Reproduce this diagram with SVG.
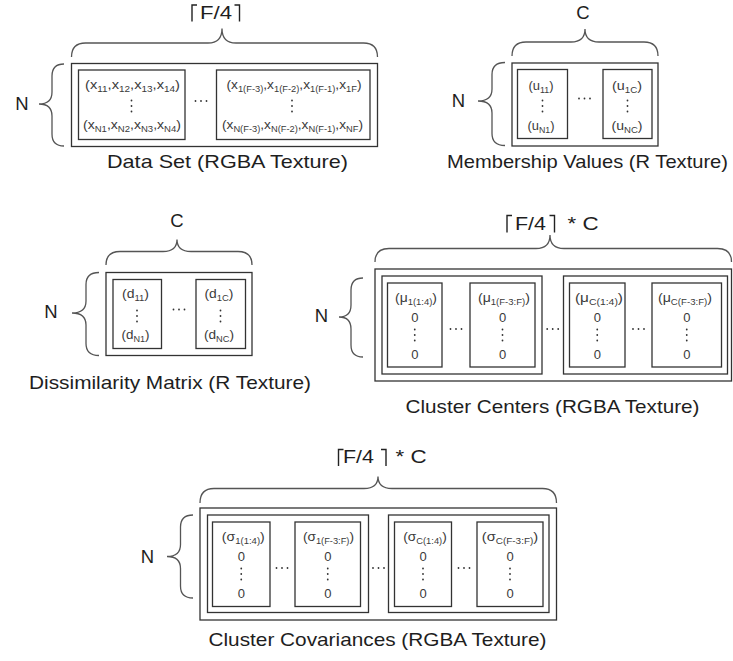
<svg xmlns="http://www.w3.org/2000/svg" xmlns:xlink="http://www.w3.org/1999/xlink" width="733" height="661" viewBox="0 0 733 661">
  <defs>
    <style>
      .frame { fill: none; stroke: #333; stroke-width: 1.3; }
      .brace { fill: none; stroke: #555; stroke-width: 1.3; }
      .ceil { fill: none; stroke: #222; stroke-width: 1.4; }
      text { font-family: "Liberation Sans", Arial, sans-serif; text-anchor: middle; }
      .lbl { font-size: 18.5px; fill: #1e1e1e; }
      .cell { font-size: 12.5px; fill: #3a3a3a; }
      .zero { font-size: 13px; fill: #3a3a3a; }
      .sb { font-size: 8.5px; }
      .dot { fill: #333; }
    </style>
    <g id="hdots"><circle class="dot" cx="-5.5" cy="0" r="0.9"/><circle class="dot" cx="0" cy="0" r="0.9"/><circle class="dot" cx="5.5" cy="0" r="0.9"/></g>
    <g id="vdots"><circle class="dot" cx="0" cy="-5.5" r="0.9"/><circle class="dot" cx="0" cy="0" r="0.9"/><circle class="dot" cx="0" cy="5.5" r="0.9"/></g>
  </defs>
  <rect width="733" height="661" fill="#fff"/>

  <!-- dimension braces and their labels -->
  <g id="braces">
    <!-- Data Set -->
    <path class="ceil" d="M197,5 L192,5 L192,21.5 M234.5,5 L239.5,5 L239.5,21.5"/>
    <text class="lbl" x="216" y="18.5" textLength="32" lengthAdjust="spacingAndGlyphs">F/4</text>
    <path class="brace" d="M71.5,57 Q71.5,43 85.5,43 L208,43 Q222,43 222,28.5 Q222,43 236,43 L363.5,43 Q377.5,43 377.5,57"/>
    <path class="brace" d="M64,64 Q52,64 52,76 L52,92 Q52,104 39,104 Q52,104 52,116 L52,134 Q52,146 64,146"/>
    <text class="lbl" x="22" y="110">N</text>

    <!-- Membership Values -->
    <text class="lbl" x="583" y="18.5">C</text>
    <path class="brace" d="M512,56 Q512,42 526,42 L571,42 Q585,42 585,29 Q585,42 599,42 L644,42 Q658,42 658,56"/>
    <path class="brace" d="M505,62.5 Q492,62.5 492,74.5 L492,89 Q492,101 478,101 Q492,101 492,113 L492,133.5 Q492,145.5 505,145.5"/>
    <text class="lbl" x="458.5" y="107">N</text>

    <!-- Dissimilarity Matrix -->
    <text class="lbl" x="177" y="227">C</text>
    <path class="brace" d="M106,265 Q106,251.5 120,251.5 L163,251.5 Q177,251.5 177,239.5 Q177,251.5 191,251.5 L238,251.5 Q252,251.5 252,265"/>
    <path class="brace" d="M99,272.5 Q86,272.5 86,284.5 L86,301 Q86,313 72,313 Q86,313 86,325 L86,343.5 Q86,355.5 99,355.5"/>
    <text class="lbl" x="51" y="318">N</text>

    <!-- Cluster Centers -->
    <path class="ceil" d="M512,215.5 L507,215.5 L507,232.5 M549.5,215.5 L554.5,215.5 L554.5,232.5"/>
    <text class="lbl" x="530.5" y="229.5" textLength="31" lengthAdjust="spacingAndGlyphs">F/4</text>
    <text class="lbl" x="583" y="229.5" textLength="31" lengthAdjust="spacingAndGlyphs">* C</text>
    <path class="brace" d="M375,262 Q375,248.5 389,248.5 L536,248.5 Q550,248.5 550,235 Q550,248.5 564,248.5 L717.5,248.5 Q731.5,248.5 731.5,262"/>
    <path class="brace" d="M363,278 Q351,278 351,290 L351,305 Q351,317 339,317 Q351,317 351,329 L351,345 Q351,357 363,357"/>
    <text class="lbl" x="321.5" y="322">N</text>

    <!-- Cluster Covariances -->
    <path class="ceil" d="M343.5,449.5 L338.5,449.5 L338.5,466 M381,449.5 L386,449.5 L386,466"/>
    <text class="lbl" x="358.5" y="463" textLength="31" lengthAdjust="spacingAndGlyphs">F/4</text>
    <text class="lbl" x="411" y="463" textLength="31" lengthAdjust="spacingAndGlyphs">* C</text>
    <path class="brace" d="M200,503 Q200,488.5 214,488.5 L364,488.5 Q378,488.5 378,476.5 Q378,488.5 392,488.5 L542.5,488.5 Q556.5,488.5 556.5,503"/>
    <path class="brace" d="M193,515 Q180.5,515 180.5,527 L180.5,544.5 Q180.5,556.5 167,556.5 Q180.5,556.5 180.5,568.5 L180.5,586 Q180.5,598 193,598"/>
    <text class="lbl" x="147.5" y="563">N</text>
  </g>

  <!-- Data Set (RGBA texture) -->
  <g id="data-set">
    <rect class="frame" x="71.5" y="63.5" width="306" height="83"/>
    <rect class="frame" x="78.5" y="70" width="106.5" height="69.5"/>
    <rect class="frame" x="216.5" y="70" width="153.5" height="69.5"/>
    <text class="cell" x="132.5" y="88.5" textLength="95" lengthAdjust="spacingAndGlyphs">(x<tspan class="sb" dy="3">11</tspan><tspan dy="-3">,x</tspan><tspan class="sb" dy="3">12</tspan><tspan dy="-3">,x</tspan><tspan class="sb" dy="3">13</tspan><tspan dy="-3">,x</tspan><tspan class="sb" dy="3">14</tspan><tspan dy="-3">)</tspan></text>
    <text class="cell" x="132" y="128.5" textLength="98" lengthAdjust="spacingAndGlyphs">(x<tspan class="sb" dy="3">N1</tspan><tspan dy="-3">,x</tspan><tspan class="sb" dy="3">N2</tspan><tspan dy="-3">,x</tspan><tspan class="sb" dy="3">N3</tspan><tspan dy="-3">,x</tspan><tspan class="sb" dy="3">N4</tspan><tspan dy="-3">)</tspan></text>
    <text class="cell" x="294" y="88.5" textLength="135" lengthAdjust="spacingAndGlyphs">(x<tspan class="sb" dy="3">1(F-3)</tspan><tspan dy="-3">,x</tspan><tspan class="sb" dy="3">1(F-2)</tspan><tspan dy="-3">,x</tspan><tspan class="sb" dy="3">1(F-1)</tspan><tspan dy="-3">,x</tspan><tspan class="sb" dy="3">1F</tspan><tspan dy="-3">)</tspan></text>
    <text class="cell" x="292.5" y="128.5" textLength="141" lengthAdjust="spacingAndGlyphs">(x<tspan class="sb" dy="3">N(F-3)</tspan><tspan dy="-3">,x</tspan><tspan class="sb" dy="3">N(F-2)</tspan><tspan dy="-3">,x</tspan><tspan class="sb" dy="3">N(F-1)</tspan><tspan dy="-3">,x</tspan><tspan class="sb" dy="3">NF</tspan><tspan dy="-3">)</tspan></text>
    <use xlink:href="#vdots" x="131.5" y="106"/>
    <use xlink:href="#vdots" x="292" y="106"/>
    <use xlink:href="#hdots" x="201" y="101"/>
    <text class="lbl" x="227.5" y="168" textLength="241" lengthAdjust="spacingAndGlyphs">Data Set (RGBA Texture)</text>
  </g>

  <!-- Membership Values (R texture) -->
  <g id="membership-values">
    <rect class="frame" x="512" y="63" width="146" height="83"/>
    <rect class="frame" x="517.5" y="69.5" width="50" height="69"/>
    <rect class="frame" x="603" y="69.5" width="49" height="69"/>
    <text class="cell" x="541" y="89.5" textLength="25" lengthAdjust="spacingAndGlyphs">(u<tspan class="sb" dy="3">11</tspan><tspan dy="-3">)</tspan></text>
    <text class="cell" x="541" y="129.5" textLength="27" lengthAdjust="spacingAndGlyphs">(u<tspan class="sb" dy="3">N1</tspan><tspan dy="-3">)</tspan></text>
    <text class="cell" x="627" y="89.5" textLength="30" lengthAdjust="spacingAndGlyphs">(u<tspan class="sb" dy="3">1C</tspan><tspan dy="-3">)</tspan></text>
    <text class="cell" x="627" y="129.5" textLength="31" lengthAdjust="spacingAndGlyphs">(u<tspan class="sb" dy="3">NC</tspan><tspan dy="-3">)</tspan></text>
    <use xlink:href="#vdots" x="542.5" y="106"/>
    <use xlink:href="#vdots" x="627.5" y="106"/>
    <use xlink:href="#hdots" x="584.5" y="98.5"/>
    <text class="lbl" x="587.5" y="168" textLength="281" lengthAdjust="spacingAndGlyphs">Membership Values (R Texture)</text>
  </g>

  <!-- Dissimilarity Matrix (R texture) -->
  <g id="dissimilarity-matrix">
    <rect class="frame" x="106" y="272.5" width="146" height="83"/>
    <rect class="frame" x="113" y="279.5" width="48.5" height="69"/>
    <rect class="frame" x="196" y="279.5" width="49.5" height="69"/>
    <text class="cell" x="135.5" y="298" textLength="27" lengthAdjust="spacingAndGlyphs">(d<tspan class="sb" dy="3">11</tspan><tspan dy="-3">)</tspan></text>
    <text class="cell" x="135.5" y="338.5" textLength="28" lengthAdjust="spacingAndGlyphs">(d<tspan class="sb" dy="3">N1</tspan><tspan dy="-3">)</tspan></text>
    <text class="cell" x="219" y="298" textLength="29" lengthAdjust="spacingAndGlyphs">(d<tspan class="sb" dy="3">1C</tspan><tspan dy="-3">)</tspan></text>
    <text class="cell" x="219" y="338.5" textLength="30" lengthAdjust="spacingAndGlyphs">(d<tspan class="sb" dy="3">NC</tspan><tspan dy="-3">)</tspan></text>
    <use xlink:href="#vdots" x="137" y="316"/>
    <use xlink:href="#vdots" x="220.5" y="316"/>
    <use xlink:href="#hdots" x="179" y="309.5"/>
    <text class="lbl" x="170" y="389" textLength="282" lengthAdjust="spacingAndGlyphs">Dissimilarity Matrix (R Texture)</text>
  </g>

  <!-- Cluster Centers (RGBA texture) -->
  <g id="cluster-centers">
    <rect class="frame" x="375" y="269" width="356.5" height="112"/>
    <rect class="frame" x="382" y="276" width="160" height="98"/>
    <rect class="frame" x="563.5" y="276" width="164" height="98"/>
    <rect class="frame" x="387.5" y="283" width="54.5" height="84"/>
    <rect class="frame" x="470" y="283" width="65" height="84"/>
    <rect class="frame" x="569.5" y="283" width="55.5" height="84"/>
    <rect class="frame" x="652" y="283" width="69.5" height="84"/>
    <text class="cell" x="416" y="302" textLength="42" lengthAdjust="spacingAndGlyphs">(μ<tspan class="sb" dy="3">1(1:4)</tspan><tspan dy="-3">)</tspan></text>
    <text class="cell" x="504" y="302" textLength="52" lengthAdjust="spacingAndGlyphs">(μ<tspan class="sb" dy="3">1(F-3:F)</tspan><tspan dy="-3">)</tspan></text>
    <text class="cell" x="599" y="302" textLength="48" lengthAdjust="spacingAndGlyphs">(μ<tspan class="sb" dy="3">C(1:4)</tspan><tspan dy="-3">)</tspan></text>
    <text class="cell" x="685" y="302" textLength="54" lengthAdjust="spacingAndGlyphs">(μ<tspan class="sb" dy="3">C(F-3:F)</tspan><tspan dy="-3">)</tspan></text>
    <text class="zero" x="414.75" y="322">0</text>
    <text class="zero" x="502.5" y="322">0</text>
    <text class="zero" x="597.25" y="322">0</text>
    <text class="zero" x="686.75" y="322">0</text>
    <use xlink:href="#vdots" x="414.75" y="335"/>
    <use xlink:href="#vdots" x="502.5" y="335"/>
    <use xlink:href="#vdots" x="597.25" y="335"/>
    <use xlink:href="#vdots" x="686.75" y="335"/>
    <text class="zero" x="414.75" y="359">0</text>
    <text class="zero" x="502.5" y="359">0</text>
    <text class="zero" x="597.25" y="359">0</text>
    <text class="zero" x="686.75" y="359">0</text>
    <use xlink:href="#hdots" x="456" y="329"/>
    <use xlink:href="#hdots" x="552.7" y="329"/>
    <use xlink:href="#hdots" x="638.5" y="329"/>
    <text class="lbl" x="552.5" y="413" textLength="294" lengthAdjust="spacingAndGlyphs">Cluster Centers (RGBA Texture)</text>
  </g>

  <!-- Cluster Covariances (RGBA texture) -->
  <g id="cluster-covariances">
    <rect class="frame" x="200" y="508" width="356.5" height="112"/>
    <rect class="frame" x="207.5" y="515" width="161" height="97.5"/>
    <rect class="frame" x="388.5" y="515" width="160.5" height="97.5"/>
    <rect class="frame" x="212.5" y="522" width="57.5" height="84.5"/>
    <rect class="frame" x="295" y="522" width="65.5" height="84.5"/>
    <rect class="frame" x="394.5" y="522" width="57" height="84.5"/>
    <rect class="frame" x="477" y="522" width="66" height="84.5"/>
    <text class="cell" x="243.3" y="541" textLength="43" lengthAdjust="spacingAndGlyphs">(σ<tspan class="sb" dy="3">1(1:4)</tspan><tspan dy="-3">)</tspan></text>
    <text class="cell" x="328.5" y="541" textLength="51" lengthAdjust="spacingAndGlyphs">(σ<tspan class="sb" dy="3">1(F-3:F)</tspan><tspan dy="-3">)</tspan></text>
    <text class="cell" x="425" y="541" textLength="43.5" lengthAdjust="spacingAndGlyphs">(σ<tspan class="sb" dy="3">C(1:4)</tspan><tspan dy="-3">)</tspan></text>
    <text class="cell" x="510" y="541" textLength="56.5" lengthAdjust="spacingAndGlyphs">(σ<tspan class="sb" dy="3">C(F-3:F)</tspan><tspan dy="-3">)</tspan></text>
    <text class="zero" x="241.25" y="561">0</text>
    <text class="zero" x="327.75" y="561">0</text>
    <text class="zero" x="423" y="561">0</text>
    <text class="zero" x="510" y="561">0</text>
    <use xlink:href="#vdots" x="241.25" y="574"/>
    <use xlink:href="#vdots" x="327.75" y="574"/>
    <use xlink:href="#vdots" x="423" y="574"/>
    <use xlink:href="#vdots" x="510" y="574"/>
    <text class="zero" x="241.25" y="598">0</text>
    <text class="zero" x="327.75" y="598">0</text>
    <text class="zero" x="423" y="598">0</text>
    <text class="zero" x="510" y="598">0</text>
    <use xlink:href="#hdots" x="282" y="568"/>
    <use xlink:href="#hdots" x="378.5" y="568"/>
    <use xlink:href="#hdots" x="464" y="568"/>
    <text class="lbl" x="377.5" y="646" textLength="338" lengthAdjust="spacingAndGlyphs">Cluster Covariances (RGBA Texture)</text>
  </g>
</svg>
